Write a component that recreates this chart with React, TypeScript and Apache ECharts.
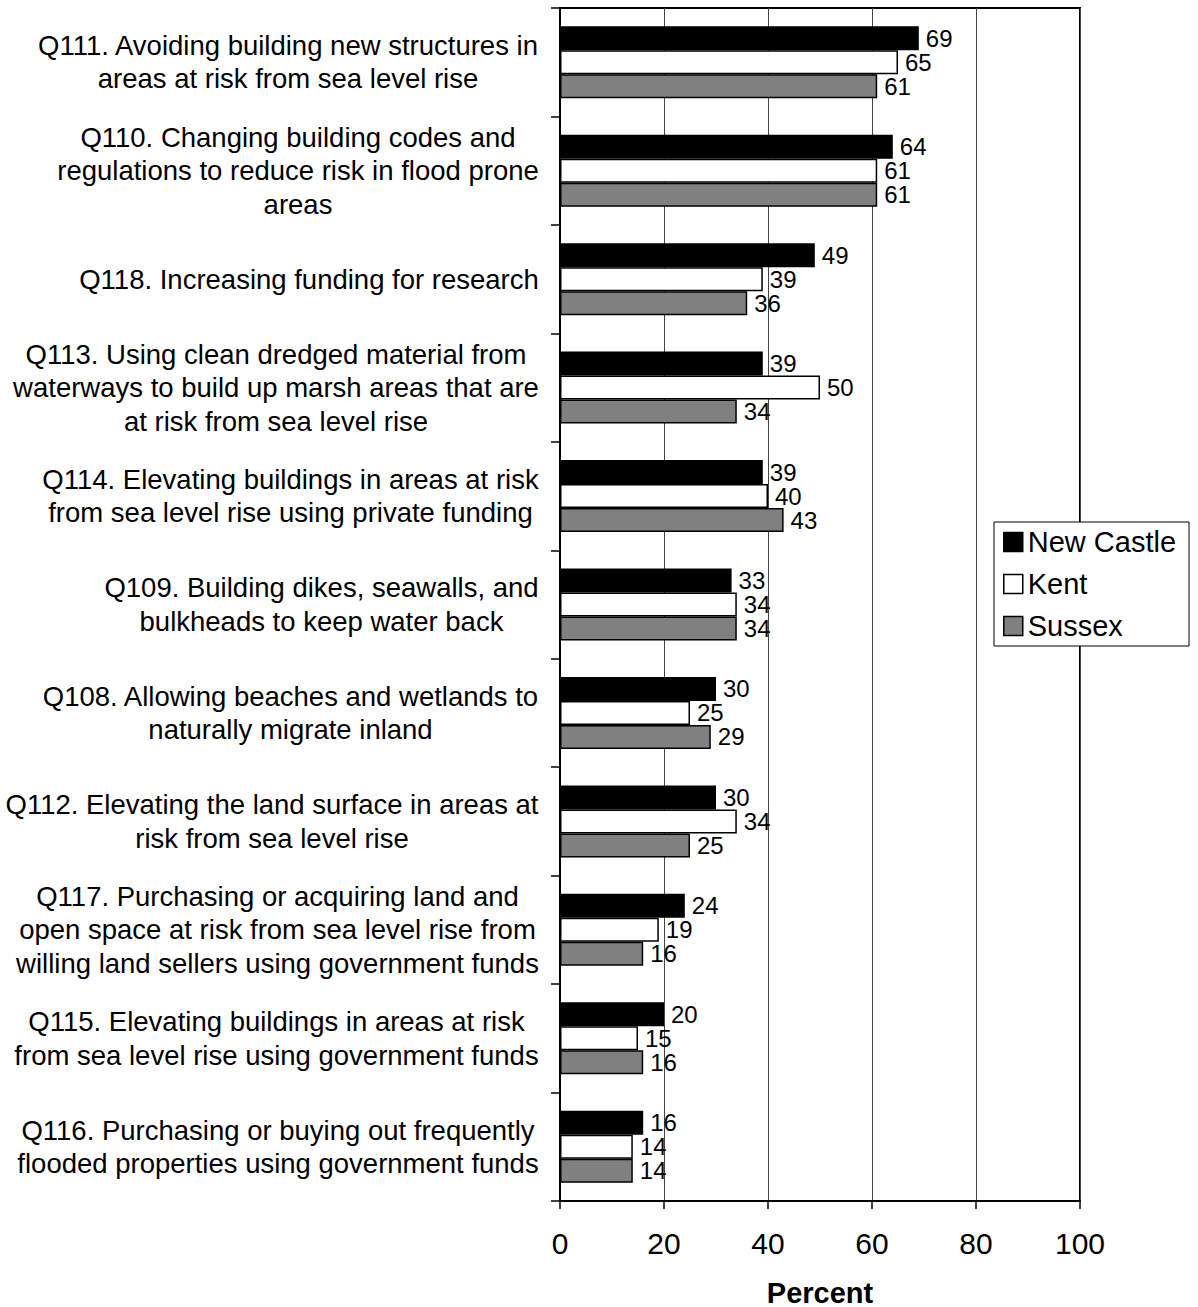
import React, { useEffect, useRef } from "react";
import * as echarts from "echarts";

const FONT = "'Liberation Sans', Arial, Helvetica, sans-serif";

const categories: string[] = [
  "Q111. Avoiding building new structures in\nareas at risk from sea level rise",
  "Q110. Changing building codes and\nregulations to reduce risk in flood prone\nareas",
  "Q118. Increasing funding for research",
  "Q113. Using clean dredged material from\nwaterways to build up marsh areas that are\nat risk from sea level rise",
  "Q114. Elevating buildings in areas at risk\nfrom sea level rise using private funding",
  "Q109. Building dikes, seawalls, and\nbulkheads to keep water back",
  "Q108. Allowing beaches and wetlands to\nnaturally migrate inland",
  "Q112. Elevating the land surface in areas at\nrisk from sea level rise",
  "Q117. Purchasing or acquiring land and\nopen space at risk from sea level rise from\nwilling land sellers using government funds",
  "Q115. Elevating buildings in areas at risk\nfrom sea level rise using government funds",
  "Q116. Purchasing or buying out frequently\nflooded properties using government funds",
];

const newCastle: number[] = [69, 64, 49, 39, 39, 33, 30, 30, 24, 20, 16];
const kent: number[] = [65, 61, 39, 50, 40, 34, 25, 34, 19, 15, 14];
const sussex: number[] = [61, 61, 36, 34, 43, 34, 29, 25, 16, 16, 14];

const xTicks: number[] = [0, 20, 40, 60, 80, 100];

const seriesNames: string[] = ["New Castle", "Kent", "Sussex"];
const seriesColors: string[] = ["#000000", "#ffffff", "#808080"];

const CAT_FONT_SIZE = 27.5;
const CAT_LINE_HEIGHT = 33.5;

function measureWidth(text: string, size: number): number {
  const canvas = document.createElement("canvas");
  const ctx = canvas.getContext("2d");
  if (!ctx) return text.length * size * 0.5;
  ctx.font = `${size}px ${FONT}`;
  return ctx.measureText(text).width;
}

export default function App() {
  const ref = useRef<HTMLDivElement>(null);

  useEffect(() => {
    if (!ref.current) return;
    const chart = echarts.init(ref.current, undefined, { renderer: "svg" });

    const rich: Record<string, any> = {};
    categories.forEach((c, i) => {
      const lines = c.split("\n");
      const w = Math.ceil(Math.max(...lines.map((l) => measureWidth(l, CAT_FONT_SIZE))));
      rich["c" + i] = {
        width: w,
        align: "center",
        fontSize: CAT_FONT_SIZE,
        lineHeight: CAT_LINE_HEIGHT,
        fontFamily: FONT,
        color: "#000",
      };
    });

    const seriesData = [newCastle, kent, sussex];

    const option: any = {
      animation: false,
      backgroundColor: "#ffffff",
      textStyle: { fontFamily: FONT },
      grid: {
        left: 560,
        right: 118,
        top: 8,
        bottom: 106,
        show: true,
        borderColor: "#000",
        borderWidth: 2,
        backgroundColor: "transparent",
        containLabel: false,
        outerBoundsMode: "none",
      },
      legend: {
        orient: "vertical",
        left: 994,
        top: 522,
        padding: [4, 13, 4, 9],
        itemGap: 10,
        itemWidth: 19,
        itemHeight: 19,
        icon: "rect",
        borderColor: "#000",
        borderWidth: 1,
        backgroundColor: "#fff",
        textStyle: {
          fontSize: 29,
          lineHeight: 32,
          color: "#000",
          fontFamily: FONT,
        },
        data: seriesNames.map((n, i) => ({
          name: n,
          itemStyle: {
            color: seriesColors[i],
            borderColor: "#000",
            borderWidth: 1.5,
          },
        })),
      },
      xAxis: {
        type: "value",
        min: xTicks[0],
        max: xTicks[xTicks.length - 1],
        interval: 20,
        name: "Percent",
        nameLocation: "middle",
        nameGap: 82,
        nameTextStyle: {
          fontSize: 29,
          lineHeight: 20,
          fontWeight: "bold",
          color: "#000",
          fontFamily: FONT,
        },
        axisLine: { show: true, lineStyle: { color: "#000", width: 2 } },
        axisTick: { show: true, length: 8, lineStyle: { color: "#000", width: 1.5 } },
        axisLabel: {
          fontSize: 30,
          color: "#000",
          margin: 27,
          fontFamily: FONT,
        },
        splitLine: { show: true, lineStyle: { color: "#444", width: 1 } },
      },
      yAxis: {
        type: "category",
        inverse: true,
        data: categories,
        axisLine: { show: true, lineStyle: { color: "#000", width: 2 } },
        axisTick: {
          show: true,
          length: 9,
          alignWithLabel: false,
          lineStyle: { color: "#000", width: 1.5 },
        },
        axisLabel: {
          interval: 0,
          margin: 21,
          color: "#000",
          fontSize: CAT_FONT_SIZE,
          lineHeight: CAT_LINE_HEIGHT,
          fontFamily: FONT,
          formatter: (value: string, index: number) =>
            value
              .split("\n")
              .map((l) => `{c${index}|${l}}`)
              .join("\n"),
          rich,
        },
        splitLine: { show: false },
      },
      series: seriesNames.map((n, i) => ({
        name: n,
        type: "bar",
        data: seriesData[i],
        barWidth: 24,
        barGap: "0%",
        itemStyle: {
          color: seriesColors[i],
          borderColor: "#000",
          borderWidth: 1.5,
        },
        label: {
          show: true,
          position: "right",
          distance: 7,
          fontSize: 24,
          color: "#000",
          fontFamily: FONT,
        },
      })),
    };

    chart.setOption(option);
    return () => {
      chart.dispose();
    };
  }, []);

  return (
    <div
      ref={ref}
      style={{ position: "absolute", left: 0, top: 0, width: 1198, height: 1307, background: "#fff" }}
    />
  );
}
